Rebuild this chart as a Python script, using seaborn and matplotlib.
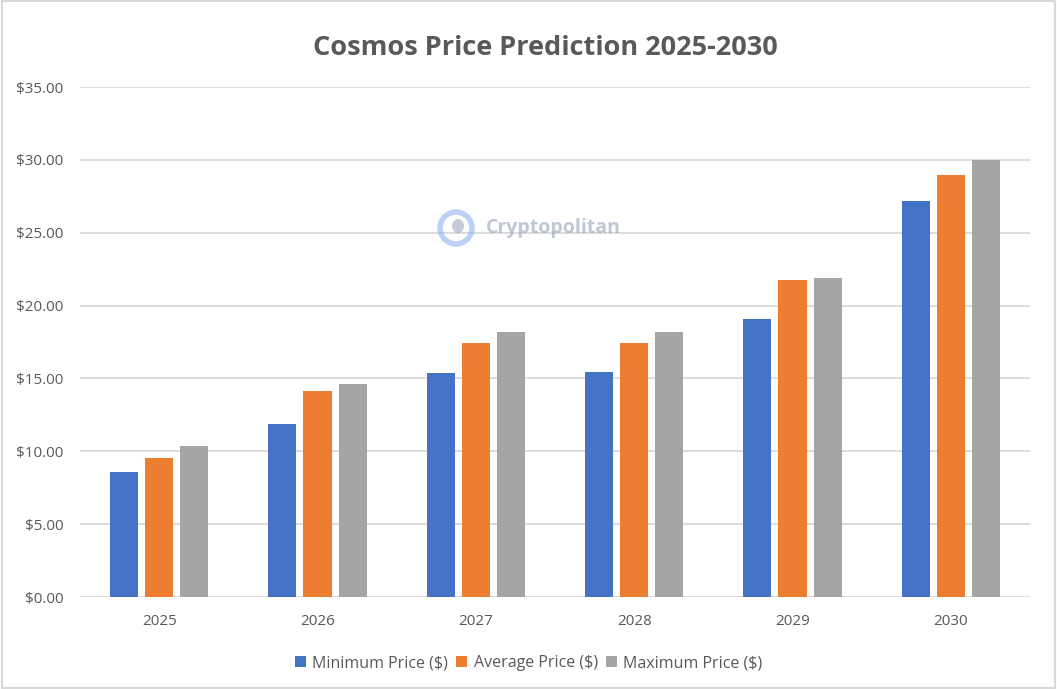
import numpy as np
import pandas as pd
import matplotlib
matplotlib.use("Agg")
import matplotlib.pyplot as plt
import seaborn as sns
from matplotlib.patches import Rectangle, Ellipse

# datos
anios = ["2025", "2026", "2027", "2028", "2029", "2030"]
precio_minimo = [8.58, 11.87, 15.40, 15.44, 19.08, 27.18]
precio_medio = [9.54, 14.14, 17.43, 17.43, 21.76, 28.96]
precio_maximo = [10.36, 14.62, 18.19, 18.19, 21.90, 30.00]
series = ["Minimum Price ($)", "Average Price ($)", "Maximum Price ($)"]
colores = ["#4472C4", "#ED7D31", "#A5A5A5"]
ticks_y = [0, 5, 10, 15, 20, 25, 30, 35]

sns.set_theme(style="white")
plt.rcParams['font.family'] = ['Open Sans', 'DejaVu Sans']

df = pd.DataFrame({
    "anio": anios * 3,
    "serie": [series[0]] * 6 + [series[1]] * 6 + [series[2]] * 6,
    "precio": precio_minimo + precio_medio + precio_maximo,
})

fig = plt.figure(figsize=(10.57, 6.89), dpi=100)
ax = fig.add_axes([80 / 1057, 1 - 597 / 689, 950 / 1057, 510 / 689])

sns.barplot(data=df, x="anio", y="precio", hue="serie", palette=colores,
            width=0.665, gap=0.2, saturation=1, linewidth=0, edgecolor="none",
            ax=ax, legend=True)

ax.set_ylim(0, 35)
ax.set_xlim(-0.5, 5.5)
ax.set_yticks(ticks_y)
ax.set_yticklabels([f"${v:.2f}" for v in ticks_y])
ax.yaxis.grid(True, color="#d9d9d9", linewidth=1.3)
ax.set_axisbelow(True)
for s in ax.spines.values():
    s.set_visible(False)
ax.set_xlabel("")
ax.set_ylabel("")
ax.tick_params(axis="both", length=0, colors="#595959", labelsize=11)
ax.tick_params(axis="x", pad=12)
ax.tick_params(axis="y", pad=12)

handles, labels = ax.get_legend_handles_labels()
ax.get_legend().remove()
leg = fig.legend(handles, labels, loc="center", bbox_to_anchor=(0.5, 1 - 663 / 689),
                 ncol=3, frameon=False, handlelength=0.7, handleheight=0.7,
                 handletextpad=0.4, columnspacing=0.5, fontsize=11.5)
for t in leg.get_texts():
    t.set_color("#595959")

fig.text(545 / 1057, 1 - 48 / 689, "Cosmos Price Prediction 2025-2030", ha="center",
         va="center", fontsize=19.5, fontweight="bold", color="#595959")

# marca de agua
fig.text(486 / 1057, 1 - 228 / 689, "Cryptopolitan", ha="left", va="center",
         fontsize=14, fontweight="bold", color="#8a9bb5", alpha=0.55)
fig.patches.append(Ellipse((456 / 1057, 1 - 228 / 689), 32 / 1057, 32 / 689,
                           transform=fig.transFigure, fill=False,
                           edgecolor="#8fb4f0", linewidth=4, alpha=0.6))
fig.patches.append(Ellipse((458 / 1057, 1 - 226 / 689), 12 / 1057, 14 / 689,
                           transform=fig.transFigure, facecolor="#8a9bb5",
                           edgecolor="none", alpha=0.5))

# borde exterior
fig.patches.append(Rectangle((0.002, 0.002), 0.996, 0.996, transform=fig.transFigure,
                             fill=False, edgecolor="#d9d9d9", linewidth=1.5))

fig.savefig("out.png", dpi=100)
